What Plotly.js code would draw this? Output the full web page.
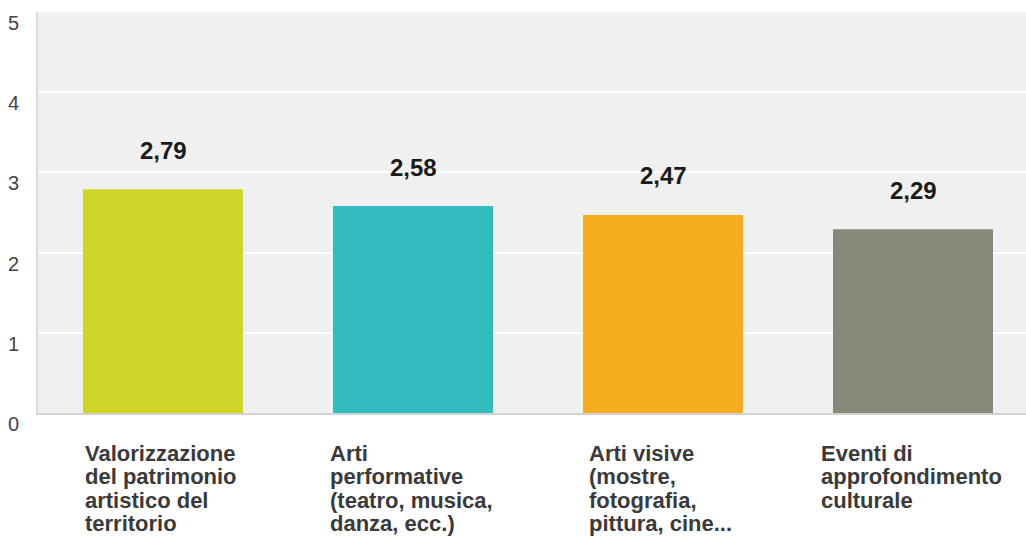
<!DOCTYPE html>
<html>
<head>
<meta charset="utf-8">
<script src="https://cdn.plot.ly/plotly-3.0.1.min.js"></script>
<style>
  html, body { margin: 0; padding: 0; background: #ffffff; }
  #chart { width: 1026px; height: 536px; }
</style>
</head>
<body>
<div id="chart"></div>
<script>
// Categories (wrapped as they appear under each bar)
const categories = [
  "Valorizzazione|del patrimonio|artistico del|territorio",
  "Arti|performative|(teatro, musica,|danza, ecc.)",
  "Arti visive|(mostre,|fotografia,|pittura, cine...",
  "Eventi di|approfondimento|culturale"
];
const values = [2.79, 2.58, 2.47, 2.29];
const valueLabels = ["2,79", "2,58", "2,47", "2,29"];
const barColors = ["#CED526", "#32BCC0", "#F5AD1F", "#878877"];
const yTickVals = [0, 1, 2, 3, 4, 5];
const yTickText = ["0", "1", "2", "3", "4", "5"];

const xIdx = categories.map((_, i) => i);

const labelFontFamily = "Liberation Sans, Arial, sans-serif";
const catFontSize = 22;

// measure text so each wrapped label block is centred under its bar
// while its lines stay left-aligned
const measureCtx = document.createElement("canvas").getContext("2d");
measureCtx.font = "bold " + catFontSize + "px 'Liberation Sans', Arial, sans-serif";
function blockWidth(lines) {
  return Math.max.apply(null, lines.map(l => measureCtx.measureText(l).width));
}

const trace = {
  type: "bar",
  x: xIdx,
  y: values,
  width: 0.64,
  marker: { color: barColors, line: { width: 0 } },
  hoverinfo: "skip"
};

const annotations = [];

// value labels above bars
values.forEach((v, i) => {
  annotations.push({
    x: i, y: v, xref: "x", yref: "y",
    text: valueLabels[i],
    showarrow: false,
    xanchor: "center", yanchor: "middle",
    yshift: 39,
    font: { family: labelFontFamily, size: 24, color: "#1a1a1a", weight: "bold" }
  });
});

// category labels, one annotation per line
const lineGap = 23.5;
categories.forEach((c, i) => {
  const lines = c.split("|");
  const w = blockWidth(lines);
  lines.forEach((line, k) => {
    annotations.push({
      x: i, y: 0, xref: "x", yref: "y",
      text: "<b>" + line + "</b>",
      showarrow: false,
      xanchor: "left", yanchor: "middle",
      xshift: -w / 2 - 4,
      yshift: -(40 + k * lineGap),
      font: { family: labelFontFamily, size: catFontSize, color: "#3a3a3a" }
    });
  });
});

const layout = {
  width: 1026,
  height: 536,
  margin: { l: 38, r: 0, t: 12, b: 123, pad: 0 },
  paper_bgcolor: "#ffffff",
  plot_bgcolor: "#f0f0f0",
  showlegend: false,
  xaxis: {
    range: [-0.5, 3.452],
    showticklabels: false,
    ticks: "",
    showgrid: false,
    zeroline: false,
    showline: true,
    linecolor: "#d2d2d2",
    linewidth: 2,
    fixedrange: true
  },
  yaxis: {
    range: [0, 5],
    tickvals: yTickVals,
    ticktext: yTickText,
    ticks: "",
    showgrid: true,
    gridcolor: "#ffffff",
    gridwidth: 2,
    zeroline: false,
    showline: true,
    linecolor: "#dcdcdc",
    linewidth: 2,
    ticklabelshift: 11,
    ticklabelstandoff: 13,
    tickfont: { family: labelFontFamily, size: 20, color: "#444444" },
    fixedrange: true
  },
  annotations: annotations
};

Plotly.newPlot("chart", [trace], layout, { displayModeBar: false, staticPlot: true });
</script>
</body>
</html>
